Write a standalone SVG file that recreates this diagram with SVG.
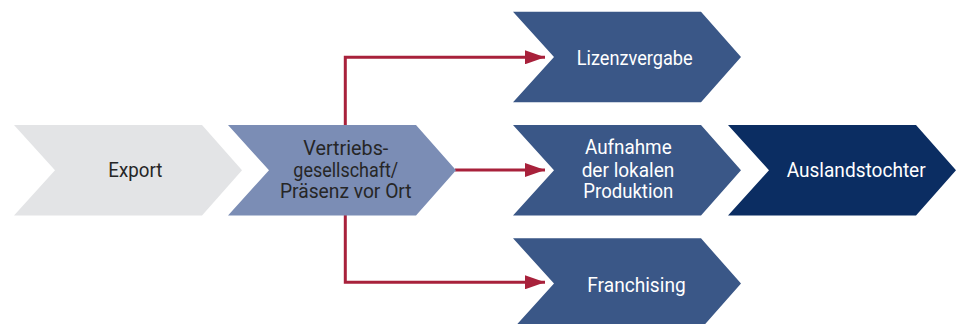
<svg xmlns="http://www.w3.org/2000/svg" xmlns:xlink="http://www.w3.org/1999/xlink" width="958" height="324" viewBox="0 0 958 324">
  <style>
    .lbl { font-family: Roboto, "Liberation Sans", "DejaVu Sans", sans-serif; font-size: 19.5px; text-anchor: middle; }
    .dark { fill: #262626; }
    .light { fill: #ffffff; }
    .conn { fill: none; stroke: #a8213b; stroke-width: 3; }
  </style>
  <defs>
    <path id="chev" d="M0,0 H188 L228,45.25 L188,90.5 H0 L41,45.25 Z"/>
    <marker id="arr" viewBox="0 0 20 14" refX="20" refY="7" markerWidth="20" markerHeight="14" markerUnits="userSpaceOnUse" orient="auto">
      <path d="M0,0 L20,7 L0,14 Z" fill="#a8213b"/>
    </marker>
  </defs>
  <rect width="958" height="324" fill="#ffffff"/>

  <g id="connectors">
    <path class="conn" d="M345.3,170 V57.3 H545" marker-end="url(#arr)"/>
    <path class="conn" d="M345.3,170 V282.3 H545" marker-end="url(#arr)"/>
    <path class="conn" d="M455,170 H545" marker-end="url(#arr)"/>
  </g>

  <g id="export">
    <use xlink:href="#chev" x="14" y="125" fill="#e3e4e6"/>
    <text class="lbl dark" x="135.3" y="176.7" textLength="54" lengthAdjust="spacingAndGlyphs">Export</text>
  </g>

  <g id="vertrieb">
    <use xlink:href="#chev" x="228" y="125" fill="#7b8db5"/>
    <text class="lbl dark" x="345.8" y="155" textLength="85" lengthAdjust="spacingAndGlyphs">Vertriebs-</text>
    <text class="lbl dark" x="345.8" y="176.7" textLength="105" lengthAdjust="spacingAndGlyphs">gesellschaft/</text>
    <text class="lbl dark" x="345.8" y="198.3" textLength="131.7" lengthAdjust="spacingAndGlyphs">Präsenz vor Ort</text>
  </g>

  <g id="lizenz">
    <use xlink:href="#chev" x="513" y="11.7" fill="#3a5787"/>
    <text class="lbl light" x="634.7" y="65" textLength="116" lengthAdjust="spacingAndGlyphs">Lizenzvergabe</text>
  </g>

  <g id="produktion">
    <use xlink:href="#chev" x="513" y="125" fill="#3a5787"/>
    <text class="lbl light" x="628.3" y="154" textLength="86.7" lengthAdjust="spacingAndGlyphs">Aufnahme</text>
    <text class="lbl light" x="628" y="176.7" textLength="92.7" lengthAdjust="spacingAndGlyphs">der lokalen</text>
    <text class="lbl light" x="628.3" y="198.3" textLength="90" lengthAdjust="spacingAndGlyphs">Produktion</text>
  </g>

  <g id="tochter">
    <use xlink:href="#chev" x="728" y="125" fill="#0b2d62"/>
    <text class="lbl light" x="856.2" y="176.7" textLength="139" lengthAdjust="spacingAndGlyphs">Auslandstochter</text>
  </g>

  <g id="franchising">
    <use xlink:href="#chev" x="513" y="238.3" fill="#3a5787"/>
    <text class="lbl light" x="636.5" y="291.7" textLength="98.4" lengthAdjust="spacingAndGlyphs">Franchising</text>
  </g>
</svg>
